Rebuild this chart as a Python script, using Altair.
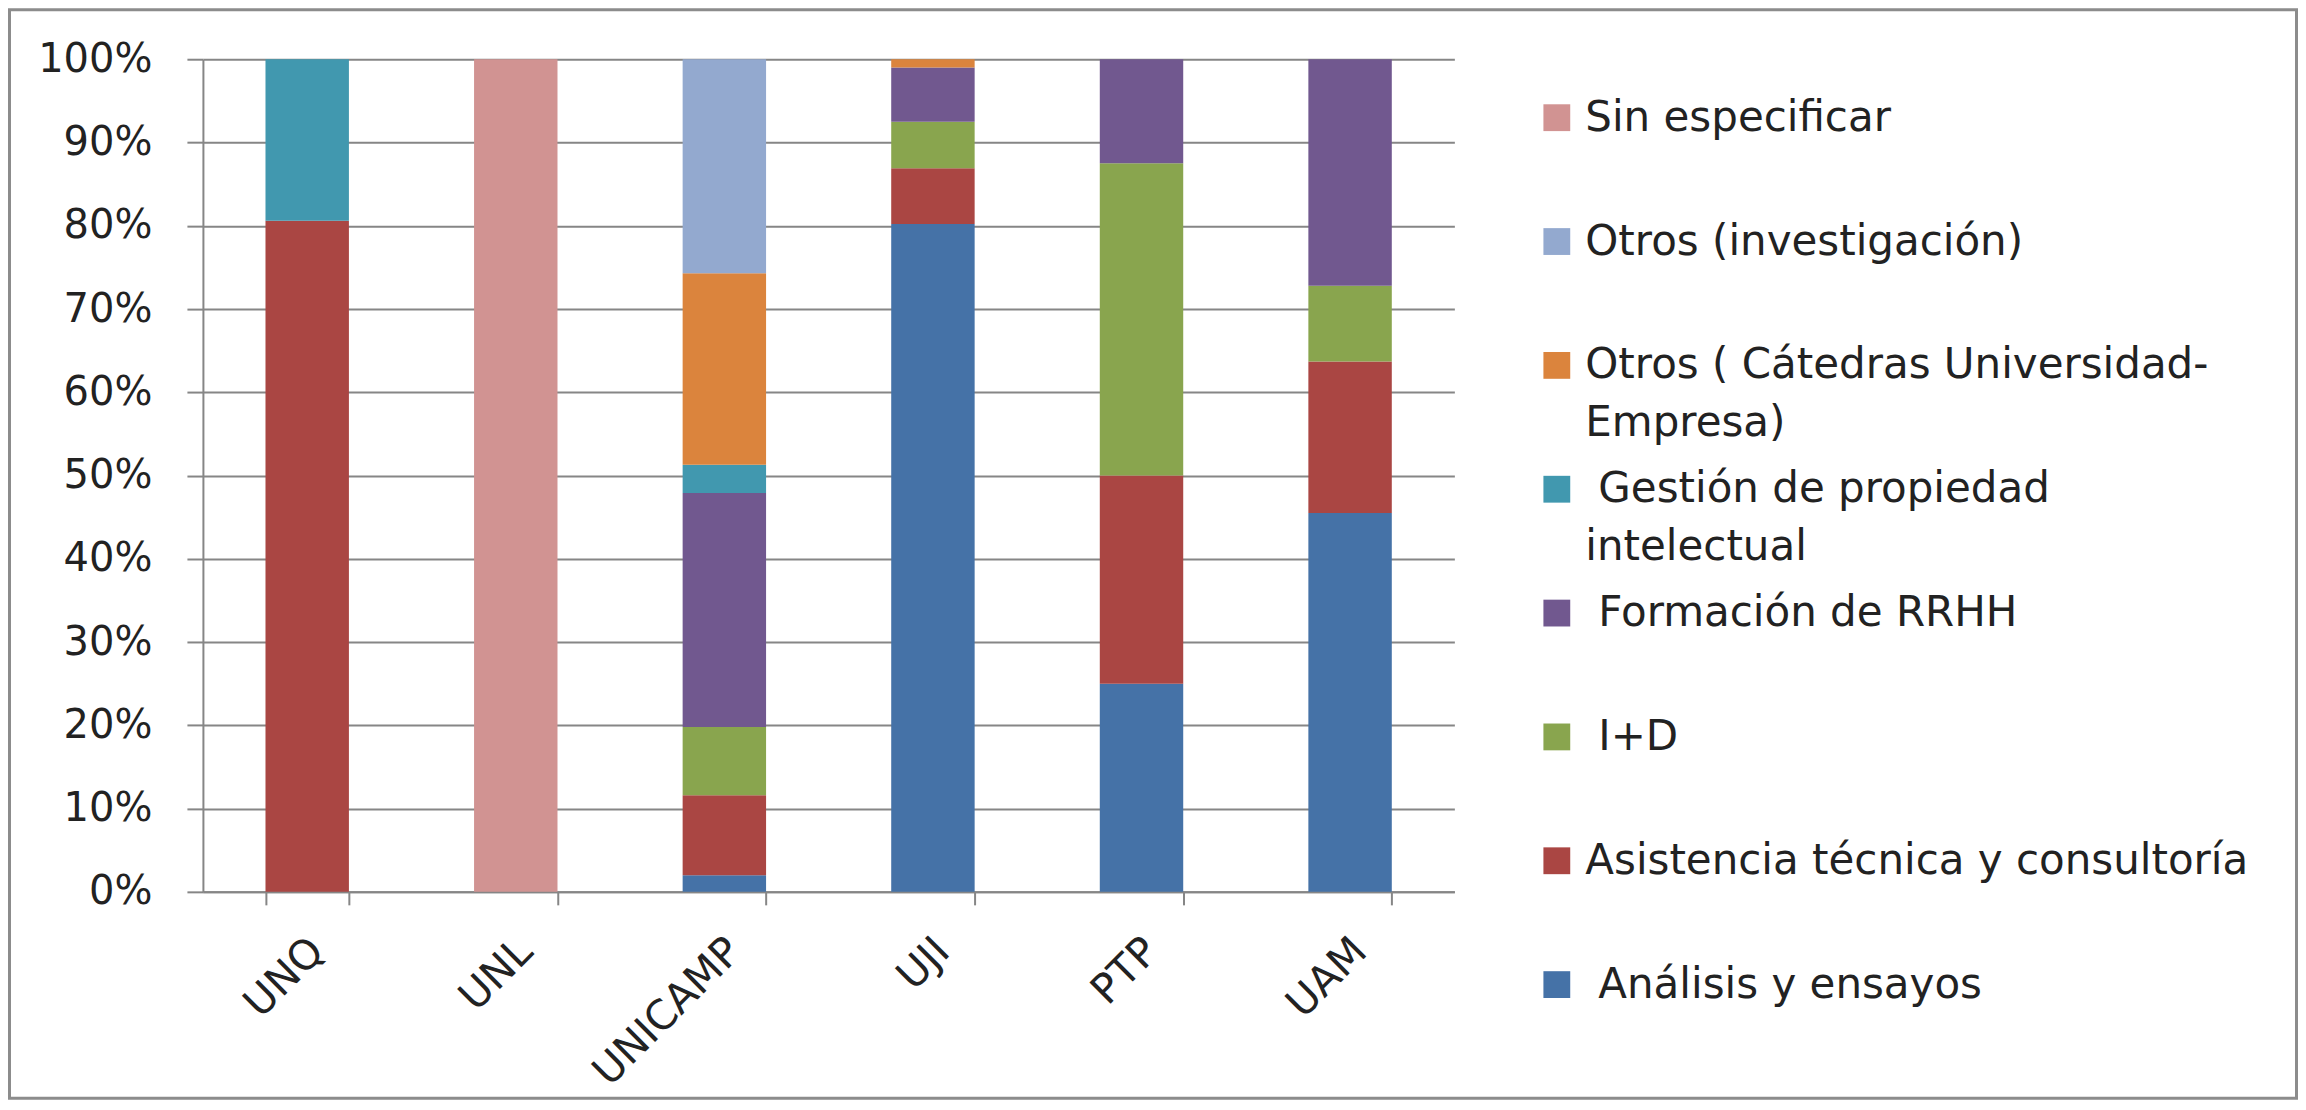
import altair as alt
import pandas as pd

# ---- data (percent of each institution's total) ----
institutions = ["UNQ", "UNL", "UNICAMP", "UJI", "PTP", "UAM"]

series = [
    "Análisis y ensayos",
    "Asistencia técnica y consultoría",
    "I+D",
    "Formación de RRHH",
    "Gestión de propiedad intelectual",
    "Otros ( Cátedras Universidad-Empresa)",
    "Otros (investigación)",
    "Sin especificar",
]
colors = ["#4572A7", "#AA4643", "#89A54E", "#71588F",
          "#4198AF", "#DB843D", "#93A9CF", "#D19392"]

analisis = [0.0, 0.0, 2.0, 80.2, 25.0, 45.5]
asistencia = [80.6, 0.0, 9.6, 6.7, 25.0, 18.2]
i_mas_d = [0.0, 0.0, 8.2, 5.6, 37.5, 9.1]
formacion = [0.0, 0.0, 28.1, 6.5, 12.5, 27.2]
gestion = [19.4, 0.0, 3.4, 0.0, 0.0, 0.0]
catedras = [0.0, 0.0, 23.0, 1.0, 0.0, 0.0]
otros_inv = [0.0, 0.0, 25.7, 0.0, 0.0, 0.0]
sin_especificar = [0.0, 100.0, 0.0, 0.0, 0.0, 0.0]

values_by_series = [analisis, asistencia, i_mas_d, formacion,
                    gestion, catedras, otros_inv, sin_especificar]

# legend text, top to bottom (same order and wording as the reference legend)
legend_labels = [
    "Sin especificar",
    "Otros (investigación)",
    "Otros ( Cátedras Universidad-\nEmpresa)",
    " Gestión de propiedad\nintelectual",
    " Formación de RRHH",
    " I+D",
    "Asistencia técnica y consultoría",
    " Análisis y ensayos",
]
legend_series = list(reversed(series))

y_ticks = [0, 10, 20, 30, 40, 50, 60, 70, 80, 90, 100]

# ---- tables ----
rows = []
for si, (name, vals) in enumerate(zip(series, values_by_series)):
    for inst, v in zip(institutions, vals):
        rows.append({"inst": inst, "serie": name, "valor": v, "orden": si})
df = pd.DataFrame(rows)

leg = pd.DataFrame({"serie": legend_series,
                    "etiqueta": legend_labels,
                    "rank": list(range(len(legend_series)))})

FONT = "DejaVu Sans"
GRID = "#868686"
TXT = "#222222"

color_scale = alt.Scale(domain=series, range=colors)

bars = alt.Chart(df).mark_bar().encode(
    x=alt.X("inst:N", sort=institutions,
            scale=alt.Scale(paddingInner=0.6, paddingOuter=0.3),
            axis=alt.Axis(title=None, labelAngle=-45, labelAlign="right",
                          labelBaseline="middle", labelFontSize=41,
                          labelFont=FONT, labelColor=TXT, tickSize=13,
                          labelPadding=40, labelOffset=10, tickBand="extent",
                          labelLimit=600,
                          domainColor=GRID, domainWidth=2, tickColor=GRID,
                          tickWidth=2, grid=False)),
    y=alt.Y("valor:Q", stack="zero",
            scale=alt.Scale(domain=[0, 100], nice=False),
            axis=alt.Axis(title=None, values=y_ticks,
                          labelExpr="datum.value + '%'", labelFontSize=40,
                          labelFont=FONT, labelColor=TXT, tickSize=16,
                          labelPadding=35, domainColor=GRID, domainWidth=2,
                          tickColor=GRID, tickWidth=2, grid=True,
                          gridColor=GRID, gridWidth=2)),
    color=alt.Color("serie:N", scale=color_scale, legend=None),
    order=alt.Order("orden:Q", sort="ascending"),
)

leg_y = alt.Y("rank:Q", scale=alt.Scale(domain=[0, 7], range=[58.5, 925.8]),
              axis=None)

leg_sq = alt.Chart(leg).mark_square(size=720, opacity=1).encode(
    x=alt.value(1354.5),
    y=leg_y,
    color=alt.Color("serie:N", scale=color_scale, legend=None),
)

# first line of each label (a leading space indents it, as in the reference)
leg_base = alt.Chart(leg).transform_calculate(
    sangria="indexof(datum.etiqueta, ' ') == 0 ? 1 : 0",
    linea1="trim(split(datum.etiqueta, '\\n')[0])",
    linea2="length(split(datum.etiqueta, '\\n')) > 1 ? split(datum.etiqueta, '\\n')[1] : ''",
)

txt_style = dict(align="left", baseline="middle", fontSize=42, font=FONT,
                 color=TXT)

leg_txt1 = leg_base.mark_text(**txt_style).encode(
    x=alt.X("sangria:Q", scale=alt.Scale(domain=[0, 1], range=[1383, 1396]),
            axis=None),
    y=leg_y,
    text="linea1:N",
)

leg_txt2 = leg_base.mark_text(dy=58, **txt_style).encode(
    x=alt.value(1383),
    y=leg_y,
    text="linea2:N",
)

frame = alt.Chart(alt.Data(values=[{"f": 1}])).mark_rect(
    fill=None, fillOpacity=0, stroke="#8c8c8c", strokeWidth=3,
).encode(
    x=alt.value(-193.5), x2=alt.value(2094.5),
    y=alt.value(-49.5), y2=alt.value(1039.5),
)

legend_layer = alt.layer(leg_sq, leg_txt1, leg_txt2)

chart = alt.layer(frame, bars, legend_layer).resolve_scale(
    x="independent", y="independent"
).properties(
    width=1252, height=833, padding=0, background="white",
).configure_view(stroke=None)

chart.save("out.html", embed_options={"renderer": "svg", "actions": False})
